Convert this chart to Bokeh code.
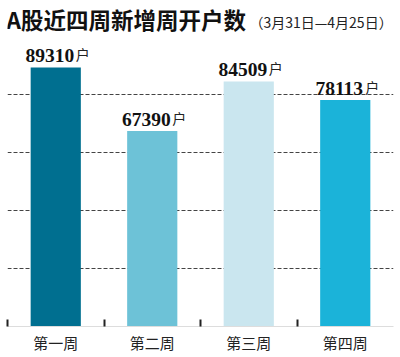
from bokeh.plotting import figure
from bokeh.models import Range1d, FixedTicker, Label, ColumnDataSource
from bokeh.core.properties import value
from bokeh.embed import file_html
from bokeh.resources import INLINE

title_text = "A股近四周新增周开户数"
subtitle_text = "（3月31日—4月25日）"
categories = ["第一周", "第二周", "第三周", "第四周"]
accounts = [89310, 67390, 84509, 78113]
unit = "户"
bar_colors = ["#006f90", "#6dc2d7", "#cae6ef", "#1bb3d9"]
grid_values = [20000, 40000, 60000, 80000]

n = len(categories)
centers = [i + 0.5 for i in range(n)]
bounds = [float(i) for i in range(n)]

src = ColumnDataSource(dict(
    x=centers, top=accounts, color=bar_colors,
    num=[str(v) for v in accounts], unit=[unit] * n,
))

p = figure(frame_width=386, frame_height=326, x_range=Range1d(0, n), y_range=Range1d(0, 112400),
           output_backend="svg", toolbar_location=None,
           min_border_left=7, min_border_right=7, min_border_top=0, min_border_bottom=28)
p.outline_line_color = None
p.background_fill_color = "white"
p.border_fill_color = "white"

p.vbar(x="x", top="top", width=0.52, fill_color="color", line_color=None, source=src)

p.text(x="x", y="top", text="num", source=src, text_align="center", text_baseline="bottom",
       x_offset=-6, y_offset=-5, text_font=value("Liberation Serif"), text_font_style="bold",
       text_font_size="19.5px", text_color="#111111")
p.text(x="x", y="top", text="unit", source=src, text_align="left", text_baseline="bottom",
       x_offset=20, y_offset=-3, text_font=value("Noto Sans CJK SC"),
       text_font_size="14px", text_color="#222222")

p.yaxis.visible = False
p.xgrid.visible = False
p.ygrid.ticker = FixedTicker(ticks=grid_values)
p.ygrid.grid_line_color = "#444444"
p.ygrid.grid_line_dash = "4 2"
p.ygrid.grid_line_width = 1

ax = p.xaxis[0]
ax.ticker = FixedTicker(ticks=centers, minor_ticks=bounds)
ax.major_label_overrides = {c: lab for c, lab in zip(centers, categories)}
ax.major_tick_in = 0
ax.major_tick_out = 0
ax.minor_tick_in = 7
ax.minor_tick_out = 0
ax.minor_tick_line_color = "#222222"
ax.minor_tick_line_width = 2
ax.axis_line_color = "#dddddd"
ax.axis_label_standoff = 0
ax.major_label_text_font = "Noto Sans CJK SC"
ax.major_label_text_font_size = "15px"
ax.major_label_text_color = "#222222"
ax.major_label_standoff = 5

p.add_layout(Label(x=-1, y=308, x_units="screen", y_units="screen", text=title_text,
                   text_font="Noto Sans CJK SC", text_font_style="bold", text_font_size="22.5px",
                   text_color="#111111", text_baseline="alphabetic"))
p.add_layout(Label(x=242, y=305, x_units="screen", y_units="screen", text=subtitle_text,
                   text_font="Noto Sans CJK SC", text_font_size="14px",
                   text_color="#222222", text_baseline="alphabetic"))

open("out.html", "w").write(file_html(p, INLINE))
